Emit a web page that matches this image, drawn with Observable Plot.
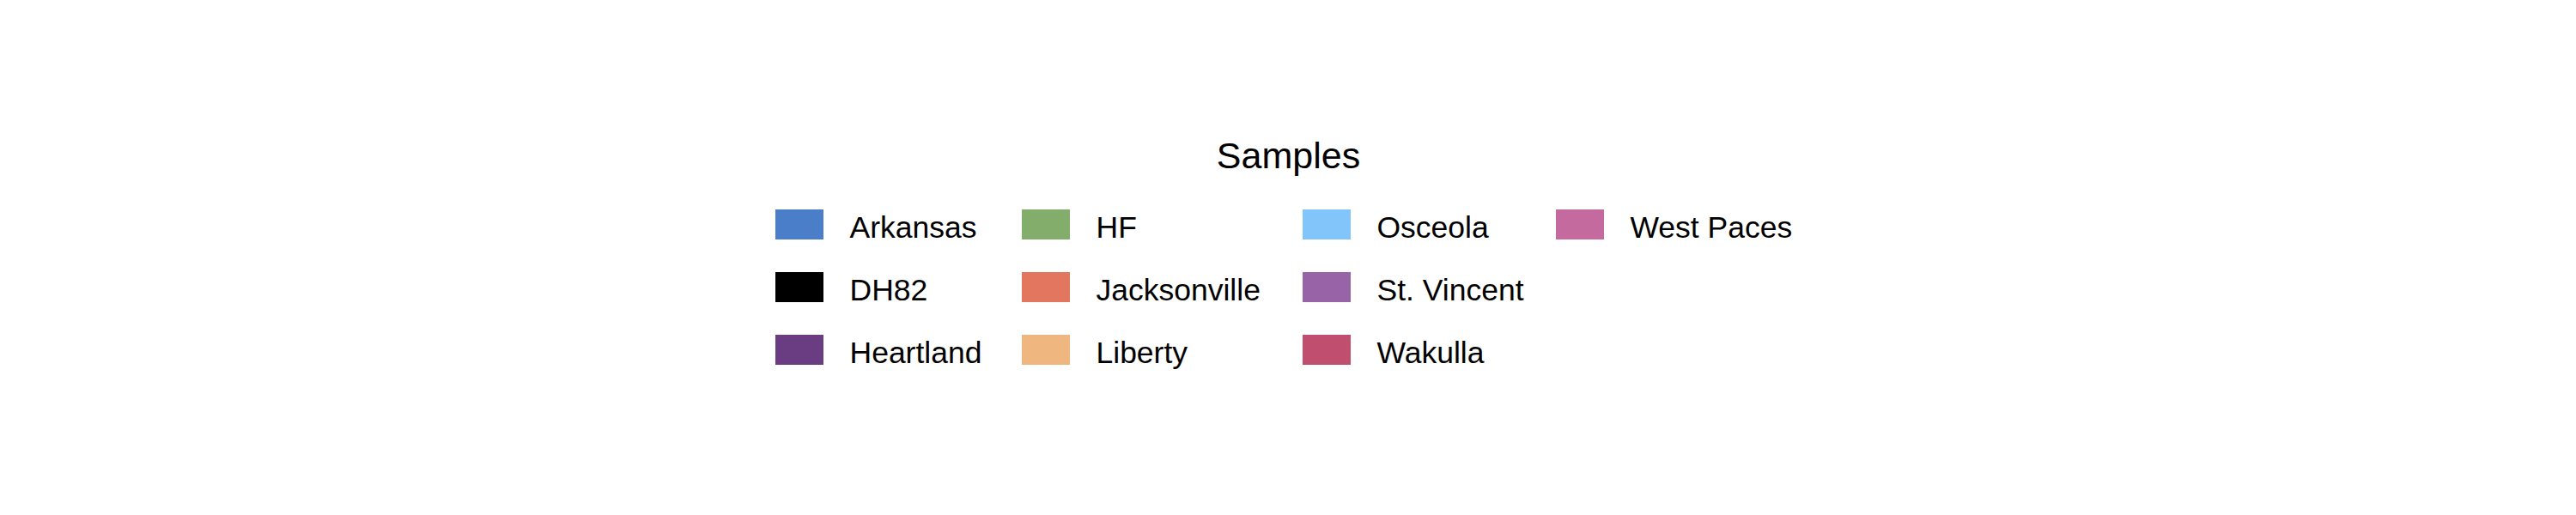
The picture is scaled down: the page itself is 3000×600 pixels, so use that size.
<!DOCTYPE html>
<html>
<head>
<meta charset="utf-8">
<script src="https://cdn.jsdelivr.net/npm/d3@7"></script>
<script src="https://cdn.jsdelivr.net/npm/@observablehq/plot@0.6"></script>
<style>
  body { margin: 0; background: #fff; }
</style>
</head>
<body>
<div id="chart"></div>
<script>
// Legend entries, listed column by column
const samples = ["Arkansas", "DH82", "Heartland", "HF", "Jacksonville", "Liberty",
                 "Osceola", "St. Vincent", "Wakulla", "West Paces"];
const colors = ["#4A7EC8", "#000000", "#6A3D82", "#82AD6A", "#E2765F", "#F0B67F",
                "#82C5FA", "#9963A8", "#C04F6F", "#C46A9E"];

// layout: 3 rows per column
const colX = [903, 1190, 1517, 1812];
const rowY = [262, 335, 408];
const data = samples.map((name, i) => ({
    name,
    col: Math.floor(i / 3),
    row: i % 3
}));

const chart = Plot.plot({
    width: 3000,
    height: 600,
    margin: 0,
    x: {type: "identity", axis: null},
    y: {type: "identity", axis: null},
    color: {domain: samples, range: colors},
    style: {fontFamily: "Liberation Sans, Arial, sans-serif", background: "#fff"},
    marks: [
        Plot.rect(data, {
            x1: (d) => colX[d.col],
            x2: (d) => colX[d.col] + 56,
            y1: (d) => rowY[d.row] - 18,
            y2: (d) => rowY[d.row] + 17,
            fill: "name"
        }),
        Plot.text(data, {
            x: (d) => colX[d.col] + 86,
            y: (d) => rowY[d.row] + 3,
            text: "name",
            textAnchor: "start",
            fontSize: 35.5,
            fill: "black"
        }),
        Plot.text(["Samples"], {
            x: () => 1500,
            y: () => 182,
            text: (d) => d,
            fontSize: 43,
            fill: "black"
        })
    ]
});

d3.select("#chart").append(() => chart);
</script>
</body>
</html>
